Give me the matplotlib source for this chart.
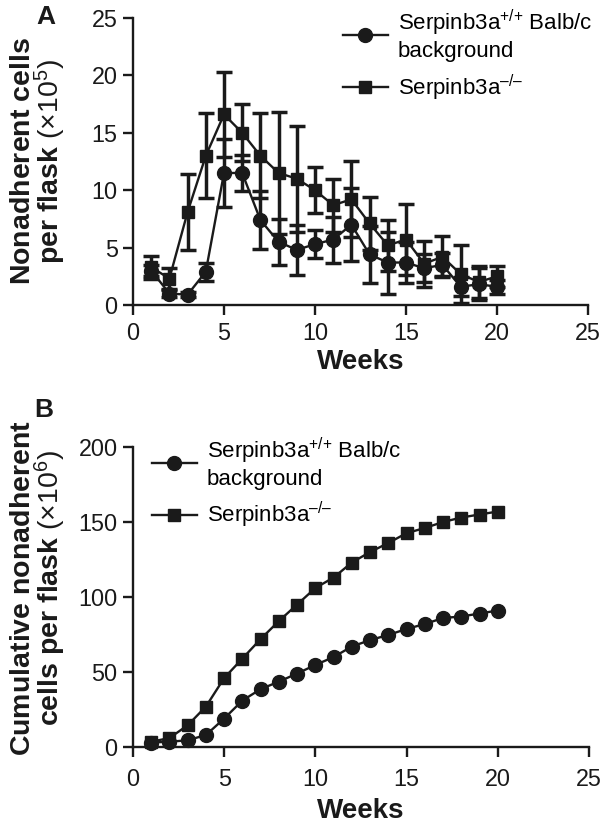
import matplotlib
matplotlib.use("Agg")
import matplotlib.pyplot as plt
import numpy as np

plt.rcParams['font.family'] = ['Liberation Sans', 'DejaVu Sans']
plt.rcParams['mathtext.fontset'] = 'custom'
plt.rcParams['mathtext.rm'] = 'Liberation Sans'
plt.rcParams['mathtext.it'] = 'Liberation Sans:italic'
plt.rcParams['mathtext.bf'] = 'Liberation Sans:bold'

# ---- data ----
weeks = [1, 2, 3, 4, 5, 6, 7, 8, 9, 10, 11, 12, 13, 14, 15, 16, 17, 18, 19, 20]

# Panel A: nonadherent cells per flask (x10^5)
wt_weekly = [3.0, 1.0, 0.9, 2.9, 11.5, 11.5, 7.4, 5.5, 4.8, 5.3, 5.7, 7.0, 4.4, 3.7, 3.7, 3.2, 3.5, 1.6, 1.8, 1.6]
wt_weekly_err = [0.5, 0.3, 0.2, 0.8, 3.0, 1.6, 2.5, 2.0, 2.2, 1.2, 2.0, 3.2, 2.5, 2.7, 1.8, 1.2, 1.0, 0.8, 1.4, 0.6]
ko_weekly = [3.3, 2.3, 8.1, 13.0, 16.6, 15.0, 13.0, 11.5, 11.0, 10.0, 8.7, 9.2, 7.1, 5.2, 5.7, 3.6, 4.2, 2.7, 2.0, 2.5]
ko_weekly_err = [1.0, 0.9, 3.3, 3.7, 3.7, 2.5, 3.7, 5.3, 4.6, 2.0, 2.3, 3.3, 2.3, 2.2, 3.1, 2.0, 1.8, 2.5, 1.4, 0.9]

# Panel B: cumulative nonadherent cells per flask (x10^6)
wt_cum = [3.0, 3.5, 4.5, 8.0, 19.0, 31.0, 38.6, 43.6, 49.0, 54.7, 60.0, 67.0, 71.3, 74.7, 78.7, 82.0, 86.0, 87.0, 89.0, 91.0]
ko_cum = [3.5, 6.0, 14.5, 27.0, 46.0, 59.0, 72.0, 84.0, 95.0, 106.0, 113.0, 123.0, 130.0, 136.0, 142.6, 146.0, 150.0, 153.0, 155.0, 157.0]

wt_label = "Serpinb3a$^{+/{+}}$ Balb/c\nbackground"
ko_label = "Serpinb3a$^{\\mathregular{\u2013/\u2013}}$"
xlabel = "Weeks"
ylabel_a = "$\\mathbf{Nonadherent\\ cells}$\n$\\mathbf{per\\ flask}$ (\u00d710$^{5}$)"
ylabel_b = "$\\mathbf{Cumulative\\ nonadherent}$\n$\\mathbf{cells\\ per\\ flask}$ (\u00d710$^{6}$)"

# ---- figure ----
W, H = 608, 825
fig = plt.figure(figsize=(W / 100, H / 100), dpi=100)
C = '#1a1a1a'

def px_axes(l, t, r, b):
    return fig.add_axes([l / W, 1 - b / H, (r - l) / W, (b - t) / H])

axA = px_axes(133, 18, 588, 305)
axB = px_axes(133, 447, 589, 747)

def style(ax, ylim, yticks, xpad, xlabpad):
    ax.set_xlim(0, 25)
    ax.set_ylim(*ylim)
    ax.set_xticks([0, 5, 10, 15, 20, 25])
    ax.set_yticks(yticks)
    for s in ['top', 'right']:
        ax.spines[s].set_visible(False)
    for s in ['left', 'bottom']:
        ax.spines[s].set_linewidth(1.7)
        ax.spines[s].set_color(C)
    ax.tick_params(direction='out', length=7, width=1.7, colors=C, labelsize=16.8, pad=4)
    ax.tick_params(axis='x', pad=xpad)
    ax.set_xlabel(xlabel, fontsize=20, fontweight='bold', color=C, labelpad=xlabpad)

leg_kw = dict(loc='upper left', frameon=False, fontsize=16, handlelength=2.0, handletextpad=0.45,
              labelspacing=0.45, borderaxespad=0, borderpad=0)

# Panel A
axA.errorbar(weeks, wt_weekly, yerr=wt_weekly_err, fmt='-o', color=C, ms=10, lw=1.7,
             elinewidth=2.5, capsize=6, capthick=2.5, label=wt_label, clip_on=False, zorder=3)
axA.errorbar(weeks, ko_weekly, yerr=ko_weekly_err, fmt='-s', color=C, ms=9, lw=1.7,
             elinewidth=2.5, capsize=6, capthick=2.5, label=ko_label, clip_on=False, zorder=3)
style(axA, (0, 25), [0, 5, 10, 15, 20, 25], 5, 3)
axA.set_ylabel(ylabel_a, fontsize=20.5, color=C, linespacing=0.88)
axA.yaxis.set_label_coords(-0.143, 0.5)
hA, lA = axA.get_legend_handles_labels()
axA.legend([h[0] for h in hA], lA, bbox_to_anchor=(0.462, 1.035), **leg_kw)

# Panel B
axB.plot(weeks, wt_cum, '-o', color=C, ms=10, lw=1.7, label=wt_label, clip_on=False, zorder=3)
axB.plot(weeks, ko_cum, '-s', color=C, ms=9, lw=1.7, label=ko_label, clip_on=False, zorder=3)
style(axB, (0, 200), [0, 50, 100, 150, 200], 8, 5)
axB.set_ylabel(ylabel_b, fontsize=20.5, color=C, linespacing=0.88)
axB.yaxis.set_label_coords(-0.143, 0.53)
axB.legend(bbox_to_anchor=(0.042, 1.037), **leg_kw)

fig.text(46 / W, 1 - 17 / H, "A", fontsize=19, fontweight='bold', color=C, ha='center', va='center')
fig.text(44 / W, 1 - 410 / H, "B", fontsize=19, fontweight='bold', color=C, ha='center', va='center')

fig.savefig("out.png", dpi=100)
